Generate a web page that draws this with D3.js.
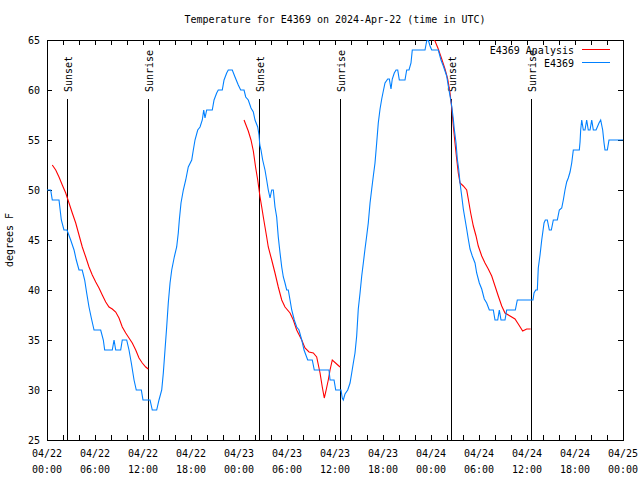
<!DOCTYPE html>
<html><head><meta charset="utf-8">
<script src="https://cdn.jsdelivr.net/npm/d3@7"></script>
<style>
body{margin:0;background:#fff;}
svg{display:block;}
text{font-family:"DejaVu Sans Mono",monospace;font-size:10px;fill:#000;}
</style></head><body>
<svg id="c" width="640" height="480"></svg>
<script>
const startTime = "2024-04-22T00:00:00Z";
const endTime = "2024-04-25T00:00:00Z";
const titleText = "Temperature for E4369 on 2024-Apr-22 (time in UTC)";
const yLabelText = "degrees F";
const yTicks = [25, 30, 35, 40, 45, 50, 55, 60, 65];
const xTickDays = ["04/22","04/22","04/22","04/22","04/23","04/23","04/23","04/23","04/24","04/24","04/24","04/24","04/25"];
const xTickTimes = ["00:00","06:00","12:00","18:00","00:00","06:00","12:00","18:00","00:00","06:00","12:00","18:00","00:00"];
const sunHours = [2.54, 12.66, 26.54, 36.63, 50.54, 60.5];
const sunLabels = ["Sunset","Sunrise","Sunset","Sunrise","Sunset","Sunrise"];
const seriesNames = ["E4369 Analysis", "E4369"];
const seriesColors = ["#ff0000", "#0080ff"];

// [hours since 04/22 00:00 UTC, degrees F]
const analysisSeg1 = [[0.66,52.5],[1.09,52],[1.5,51.3],[1.91,50.5],[2.34,49.7],[2.75,48.7],[3.16,47.7],[3.59,46.7],[4.0,45.5],[4.41,44.3],[4.84,43.3],[5.25,42.3],[5.66,41.5],[6.09,40.8],[6.5,40.2],[6.91,39.5],[7.34,38.8],[7.75,38.3],[8.16,38.1],[8.59,37.8],[9.0,37.2],[9.41,36.3],[9.84,35.7],[10.25,35.2],[10.66,34.7],[11.09,34],[11.5,33.2],[11.91,32.7],[12.34,32.3],[12.66,32.1]];
const analysisSeg2 = [[24.63,57],[25.16,55.9],[25.5,55],[25.79,53.9],[26.09,52.2],[26.34,51],[26.63,49.3],[26.84,48.3],[27.04,47.3],[27.25,46.3],[27.46,45.3],[27.66,44.3],[28.09,43],[28.5,41.7],[28.91,40.3],[29.34,39],[29.75,38.3],[30.38,37.7],[30.79,37],[31.21,36],[31.84,35],[32.25,34.2],[32.75,33.8],[33.29,33.7],[33.71,33.3],[34.13,31.7],[34.41,30.3],[34.66,29.2],[34.84,29.8],[35.16,31],[35.38,32],[35.66,33],[36.63,32.3]];
const analysisSeg3 = [[48.2,65.2],[48.5,64.9],[48.91,64.1],[49.34,63.1],[49.75,62.1],[50.09,61.1],[50.38,59.7],[50.59,58.2],[50.79,56.4],[51.0,54.7],[51.21,53.1],[51.41,51.7],[51.63,50.7],[52.04,50.4],[52.46,50],[52.66,49.1],[52.96,47.7],[53.29,46.4],[53.63,45.4],[53.91,44.4],[54.34,43.4],[54.75,42.7],[55.16,42.1],[55.59,41.4],[56.0,40.4],[56.41,39.4],[56.84,38.4],[57.25,37.7],[57.88,37.4],[58.5,37.1],[58.91,36.6],[59.46,35.9],[59.96,36.1],[60.46,36.1]];
const obsE4369 = [[0,50],[0.46,50],[0.66,49],[1.5,49],[1.79,47],[2.12,46],[2.5,46],[2.96,45],[3.38,44],[3.66,43],[4.0,42],[4.4,42],[4.71,41],[4.96,39.7],[5.25,38.3],[5.54,37.2],[5.88,36],[6.71,36],[7.04,35],[7.21,34],[8.16,34],[8.38,35],[8.59,34],[9.21,34],[9.41,35],[9.96,35],[10.25,34],[10.54,32.7],[10.88,31],[11.16,30],[11.79,30],[12.0,29],[12.88,29],[13.16,28],[13.71,28],[14.0,29],[14.34,30],[14.54,31.7],[14.75,34],[14.96,36.3],[15.16,38.7],[15.38,40.7],[15.59,42],[15.91,43.3],[16.21,44.3],[16.41,45.7],[16.54,47],[16.75,48.7],[17.04,50],[17.34,51],[17.66,52.3],[18.09,53],[18.29,54],[18.5,55],[18.84,56],[19.13,56.3],[19.41,57],[19.59,58],[19.75,57.2],[19.96,58],[20.66,58],[20.88,59],[21.21,59.7],[21.41,60],[21.91,60],[22.13,61],[22.46,61.7],[22.66,62],[23.16,62],[23.5,61.3],[23.91,60.5],[24.21,60],[24.63,60],[24.84,59.3],[25.16,59],[25.5,58.2],[25.79,57.8],[26.0,57],[26.34,56.3],[26.5,55.5],[26.6,54.5],[26.75,54],[26.96,53],[27.25,52],[27.46,51],[27.66,50],[27.88,49.2],[28.09,50],[28.29,50],[28.5,48.3],[28.71,47.3],[28.91,45.3],[29.13,43.7],[29.34,42.3],[29.54,41.3],[29.75,40.7],[29.96,40],[30.16,40],[30.38,39],[30.59,38],[30.91,37],[31.21,36.3],[31.5,36],[31.84,35],[32.13,34],[32.59,33],[33.16,33],[33.41,32],[35.25,32],[35.38,31],[35.88,31],[36.09,30],[36.75,30],[36.91,29.2],[37.04,29],[37.25,29.6],[37.59,30],[37.88,30.7],[38.09,31.7],[38.29,32.7],[38.5,33.7],[38.71,35.4],[38.91,38.1],[39.13,39.7],[39.34,41.4],[39.54,42.7],[39.75,44.1],[39.96,45.4],[40.16,46.7],[40.38,48.7],[40.59,50.1],[40.79,51.4],[41.0,52.7],[41.21,54.7],[41.41,56.7],[41.63,58.1],[41.84,59.1],[42.04,59.9],[42.25,60.7],[42.59,61.1],[42.79,61.1],[43.0,60.1],[43.16,61.1],[43.41,61.7],[43.63,62],[43.84,62],[44.04,61],[44.75,61],[44.96,62],[45.25,62],[45.5,62.7],[45.66,64],[47.25,64],[47.46,64.9],[47.66,65],[47.88,64.4],[48.09,64],[48.91,64],[49.25,63],[49.54,62.4],[49.96,61.4],[50.16,60.4],[50.38,59.4],[50.59,58.4],[50.79,57.1],[50.91,56.1],[51.13,54.7],[51.29,53.1],[51.46,52.1],[51.63,50.7],[51.84,49.4],[52.04,48.1],[52.25,47.1],[52.46,46.1],[52.66,45.1],[52.88,44.1],[53.16,43.4],[53.5,42.7],[53.71,41.7],[54.04,40.7],[54.34,40.1],[54.66,39.1],[54.96,38.7],[55.29,38],[55.79,38],[56.0,37],[56.34,37],[56.54,38],[56.75,37],[57.25,37],[57.46,38],[58.54,38],[58.79,39],[60.75,39],[60.88,39.7],[61.09,40],[61.29,40],[61.41,42.2],[61.63,43.5],[61.84,45],[61.96,45.7],[62.13,46.7],[62.29,47],[62.54,47],[62.79,46],[63.04,46],[63.29,47],[63.79,47],[64.04,48],[64.34,48.2],[64.54,49],[64.75,50],[64.96,50.8],[65.16,51.2],[65.38,51.8],[65.59,52.7],[65.79,54],[66.54,54],[66.63,54.8],[66.71,56],[66.84,57],[67.04,56],[67.25,56],[67.46,57],[67.66,56],[67.88,56],[68.09,57],[68.29,56],[68.63,56],[68.79,56.3],[69.0,56.7],[69.21,57],[69.46,56],[69.63,54.7],[69.75,54],[70.04,54],[70.25,55],[72,55]];

const L = 47, R = 623, T = 40, B = 440;
const t0 = new Date(startTime), t1 = new Date(endTime);
const toDate = h => new Date(t0.getTime() + h * 3600e3);
const x = d3.scaleUtc().domain([t0, t1]).range([L, R]);
const y = d3.scaleLinear().domain([25, 65]).range([B, T]);

const svg = d3.select("#c");
svg.append("rect").attr("width", 640).attr("height", 480).attr("fill", "#fff");

svg.append("defs").append("clipPath").attr("id", "clip")
  .append("rect").attr("x", L).attr("y", T).attr("width", R - L).attr("height", B - T);

// axes (ticks inward)
const tickHours = d3.utcHour.every(2).range(t0, new Date(t1.getTime() + 1));
const majorTicks = d3.utcHour.every(6).range(t0, new Date(t1.getTime() + 1));
function styleAxis(g) {
  g.select(".domain").remove();
  g.selectAll("line").attr("stroke", "#000").attr("shape-rendering", "crispEdges");
}
svg.append("g").attr("transform", `translate(0,${B})`)
  .call(d3.axisBottom(x).tickValues(tickHours).tickSize(-5).tickFormat(""))
  .call(styleAxis);
svg.append("g").attr("transform", `translate(0,${T})`)
  .call(d3.axisTop(x).tickValues(tickHours).tickSize(-5).tickFormat(""))
  .call(styleAxis);
svg.append("g").attr("transform", `translate(${L},0)`)
  .call(d3.axisLeft(y).tickValues(yTicks).tickSize(-5).tickFormat(""))
  .call(styleAxis);
svg.append("g").attr("transform", `translate(${R},0)`)
  .call(d3.axisRight(y).tickValues(yTicks).tickSize(-5).tickFormat(""))
  .call(styleAxis);

// tick labels
svg.append("g").selectAll("text").data(yTicks).join("text")
  .attr("x", 40).attr("y", d => y(d)).attr("dy", "0.36em")
  .attr("text-anchor", "end").text(d => d);
const xl = svg.append("g").selectAll("text").data(majorTicks).join("text")
  .attr("text-anchor", "middle").attr("x", d => x(d));
xl.append("tspan").attr("x", d => x(d)).attr("y", 457).text((d, i) => xTickDays[i]);
xl.append("tspan").attr("x", d => x(d)).attr("y", 473).text((d, i) => xTickTimes[i]);

// frame
svg.append("rect").attr("x", L).attr("y", T).attr("width", R - L).attr("height", B - T)
  .attr("fill", "none").attr("stroke", "#000").attr("shape-rendering", "crispEdges");

// title & y label
svg.append("text").attr("x", (L + R) / 2).attr("y", 23).attr("text-anchor", "middle").text(titleText);
svg.append("text").attr("transform", `translate(13,${(T + B) / 2}) rotate(-90)`)
  .attr("text-anchor", "middle").text(yLabelText);

// sunrise/sunset markers
const sg = svg.append("g");
sg.selectAll("line").data(sunHours).join("line")
  .attr("x1", d => x(toDate(d))).attr("x2", d => x(toDate(d)))
  .attr("y1", 99).attr("y2", B).attr("stroke", "#000").attr("shape-rendering", "crispEdges");
sg.selectAll("text").data(sunHours).join("text")
  .attr("transform", d => `translate(${Math.round(x(toDate(d))) + 5},92) rotate(-90)`)
  .attr("text-anchor", "start").text((d, i) => sunLabels[i]);

// series
const line = d3.line().x(d => x(toDate(d[0]))).y(d => y(d[1]));
const plot = svg.append("g").attr("clip-path", "url(#clip)");
[analysisSeg1, analysisSeg2, analysisSeg3].forEach(seg => {
  plot.append("path").attr("d", line(seg)).attr("fill", "none")
    .attr("stroke", seriesColors[0]).attr("stroke-width", 1.1);
});
plot.append("path").attr("d", line(obsE4369)).attr("fill", "none")
  .attr("stroke", seriesColors[1]).attr("stroke-width", 1.1);

// legend
const lg = svg.append("g");
seriesNames.forEach((n, i) => {
  const yy = 54 + i * 13;
  lg.append("text").attr("x", 574).attr("y", yy).attr("text-anchor", "end").text(n);
  lg.append("line").attr("x1", 582).attr("x2", 610).attr("y1", yy - 4.5).attr("y2", yy - 4.5)
    .attr("stroke", seriesColors[i]).attr("shape-rendering", "crispEdges");
});
</script>
</body></html>
